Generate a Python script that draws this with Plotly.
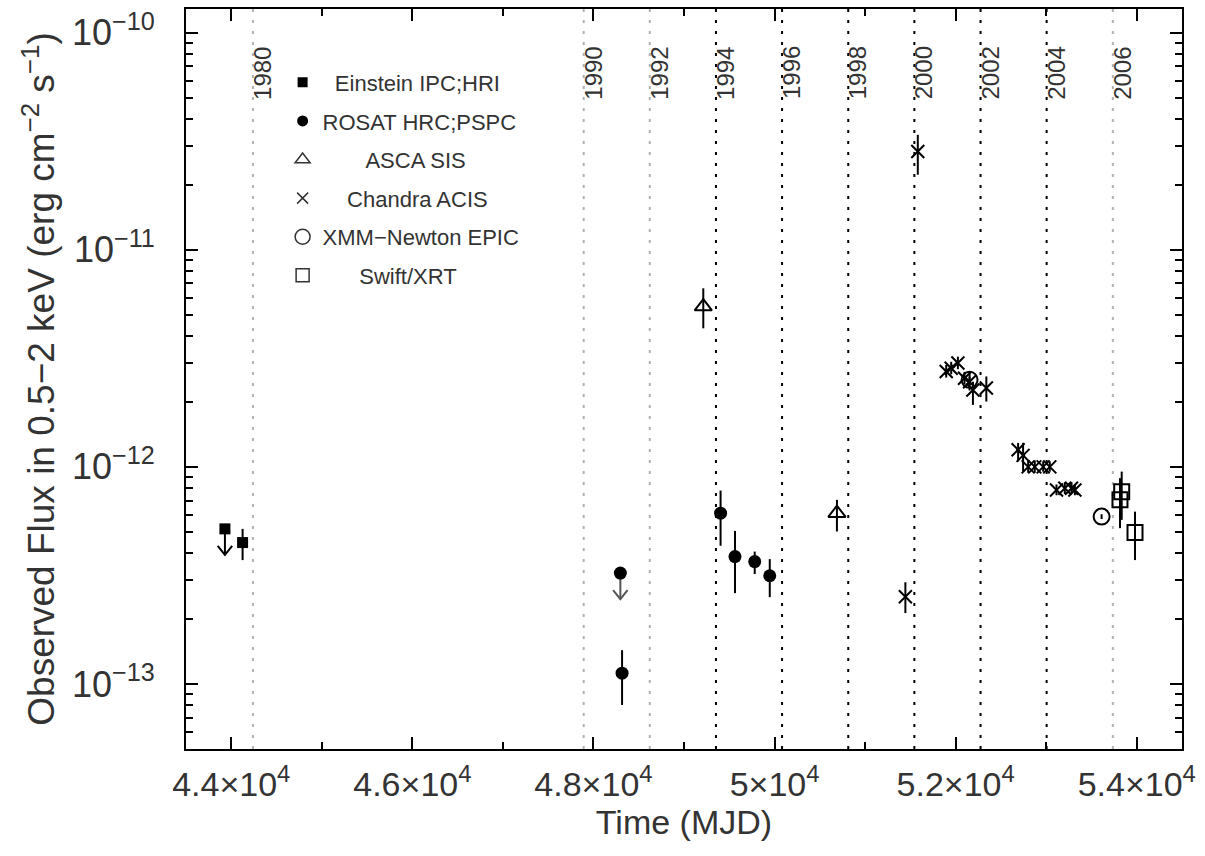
import plotly.graph_objects as go

# ---------------- data ----------------
# Einstein IPC;HRI
ein_mjd = [44125]
ein_flux = [4.48e-13]
ein_hi = [5.18e-13]
ein_lo = [3.72e-13]
ein_ul_mjd = [43930]
ein_ul_flux = [5.18e-13]

# ROSAT HRC;PSPC
ros_mjd = [48316, 49404, 49563, 49781, 49947]
ros_flux = [1.12e-13, 6.12e-13, 3.86e-13, 3.66e-13, 3.15e-13]
ros_hi = [1.43e-13, 7.78e-13, 5.07e-13, 4.07e-13, 3.76e-13]
ros_lo = [8.0e-14, 4.33e-13, 2.62e-13, 3.21e-13, 2.51e-13]
ros_ul_mjd = [48297]
ros_ul_flux = [3.24e-13]

# ASCA SIS
asca_mjd = [49213, 50689]
asca_flux = [5.48e-12, 6.12e-13]
asca_hi = [6.65e-12, 7.05e-13]
asca_lo = [4.35e-12, 5.04e-13]

# Chandra ACIS
cxo_mjd = [51445, 51582, 51896, 51951, 52025, 52098, 52154, 52191, 52339,
           52690, 52745, 52801, 52874, 52967, 53040, 53114, 53206, 53280, 53317]
cxo_flux = [2.52e-13, 2.84e-11, 2.75e-12, 2.85e-12, 3.01e-12, 2.56e-12, 2.47e-12, 2.26e-12, 2.31e-12,
            1.20e-12, 1.13e-12, 1.00e-12, 1.00e-12, 1.00e-12, 1.00e-12, 7.83e-13, 7.97e-13, 7.97e-13, 7.83e-13]
cxo_hi = [2.94e-13, 3.39e-11, 2.95e-12, 3.05e-12, 3.22e-12, 2.74e-12, 2.72e-12, 2.47e-12, 2.61e-12,
          1.29e-12, 1.29e-12, 1.07e-12, 1.07e-12, 1.06e-12, 1.06e-12, 8.3e-13, 8.5e-13, 8.5e-13, 8.3e-13]
cxo_lo = [2.12e-13, 2.22e-11, 2.58e-12, 2.67e-12, 2.82e-12, 2.40e-12, 2.25e-12, 1.93e-12, 2.00e-12,
          1.06e-12, 0.95e-12, 0.94e-12, 0.94e-12, 0.95e-12, 0.95e-12, 7.4e-13, 7.5e-13, 7.5e-13, 7.4e-13]

# XMM-Newton EPIC
xmm_mjd = [52154, 53612]
xmm_flux = [2.52e-12, 5.90e-13]
xmm_hi = [2.60e-12, 6.05e-13]
xmm_lo = [2.45e-12, 5.75e-13]

# Swift/XRT
swi_mjd = [53815, 53834, 53981]
swi_flux = [7.05e-13, 7.69e-13, 4.98e-13]
swi_hi = [8.87e-13, 9.51e-13, 6.22e-13]
swi_lo = [5.22e-13, 5.70e-13, 3.72e-13]

# calendar years marked by vertical lines
years = ["1980", "1990", "1992", "1994", "1996", "1998", "2000", "2002", "2004", "2006"]
year_mjd = [44239, 47892, 48622, 49353, 50083, 50814, 51544, 52275, 53005, 53736]
year_faint = [True, True, True, False, False, False, False, False, False, True]

# axis ticks
x_tickvals = [44000, 46000, 48000, 50000, 52000, 54000]
x_ticktext = ["4.4×10<sup>4</sup>", "4.6×10<sup>4</sup>", "4.8×10<sup>4</sup>",
              "5×10<sup>4</sup>", "5.2×10<sup>4</sup>", "5.4×10<sup>4</sup>"]
x_minor = [45000, 47000, 49000, 51000, 53000]
y_tickvals = [1e-13, 1e-12, 1e-11, 1e-10]
y_ticktext = ["10<sup>−13</sup>", "10<sup>−12</sup>", "10<sup>−11</sup>", "10<sup>−10</sup>"]

legend_names = ["Einstein IPC;HRI", "ROSAT HRC;PSPC", "ASCA SIS",
                "Chandra ACIS", "XMM−Newton EPIC", "Swift/XRT"]

# ---------------- style ----------------
FONT = "Liberation Sans, Arial, sans-serif"
TXT = "#333333"
NB = "\u00a0"
AXFONT = 34


def plus(v, hi):
    return [h - a for a, h in zip(v, hi)]


def minus(v, lo):
    return [a - l for a, l in zip(v, lo)]


def err(v, hi, lo):
    return dict(type="data", symmetric=False, array=plus(v, hi), arrayminus=minus(v, lo),
                color="black", thickness=2, width=0)


fig = go.Figure()

# year lines
for yr, m, faint in zip(years, year_mjd, year_faint):
    fig.add_vline(x=m, line=dict(color="#b0b0b0" if faint else "black", width=2, dash="3px,8px"),
                  layer="below")
    fig.add_annotation(x=m, y=0.9135, xref="x", yref="paper", text=yr, textangle=-90,
                       showarrow=False, xshift=9, yanchor="middle", xanchor="center",
                       font=dict(family=FONT, size=24, color=TXT))

# upper-limit arrows (shaft + open V head), derived from the limit values
SHAFT = 10 ** (-26 / 217)
HEAD = 10 ** (9 / 217)
DX = 80


def arrow_xy(mjds, fluxes):
    xs, ys = [], []
    for m, f in zip(mjds, fluxes):
        tip = f * SHAFT
        xs += [m, m, None, m - DX, m, m + DX, None]
        ys += [f, tip, None, tip * HEAD, tip, tip * HEAD, None]
    return xs, ys


for mjds, fl, col in [(ein_ul_mjd, ein_ul_flux, "black"), (ros_ul_mjd, ros_ul_flux, "#555555")]:
    ax_, ay_ = arrow_xy(mjds, fl)
    fig.add_trace(go.Scatter(x=ax_, y=ay_, mode="lines", line=dict(color=col, width=2),
                             showlegend=False, hoverinfo="skip"))

# data traces
series = [
    (ein_mjd + ein_ul_mjd, ein_flux + ein_ul_flux, ein_hi + ein_ul_flux, ein_lo + ein_ul_flux,
     dict(symbol="square", size=11, color="black")),
    (ros_mjd + ros_ul_mjd, ros_flux + ros_ul_flux, ros_hi + ros_ul_flux, ros_lo + ros_ul_flux,
     dict(symbol="circle", size=13, color="black")),
    (asca_mjd, asca_flux, asca_hi, asca_lo,
     dict(symbol="triangle-up-open", size=15, color="black", line=dict(width=2))),
    (cxo_mjd, cxo_flux, cxo_hi, cxo_lo,
     dict(symbol="x-thin-open", size=13, color="black", line=dict(width=2))),
    (xmm_mjd, xmm_flux, xmm_hi, xmm_lo,
     dict(symbol="circle-open", size=16, color="black", line=dict(width=2))),
    (swi_mjd, swi_flux, swi_hi, swi_lo,
     dict(symbol="square-open", size=15, color="black", line=dict(width=2))),
]
for mj, fl, hi, lo, mk in series:
    fig.add_trace(go.Scatter(x=mj, y=fl, mode="markers", marker=mk,
                             error_y=err(fl, hi, lo), showlegend=False))

# legend entries (markers only)
legend_markers = [
    dict(symbol="square", size=10, color="black"),
    dict(symbol="circle", size=11, color="black"),
    dict(symbol="triangle-up-open", size=13, color="#333333", line=dict(width=1.5)),
    dict(symbol="x-thin-open", size=11, color="#333333", line=dict(width=1.5)),
    dict(symbol="circle-open", size=15, color="#333333", line=dict(width=1.5)),
    dict(symbol="square-open", size=13, color="#333333", line=dict(width=1.5)),
]
pads = [2, 0, 7, 4, 0, 6]
for i, (name, mk, p) in enumerate(zip(legend_names, legend_markers, pads)):
    fig.add_trace(go.Scatter(x=[None], y=[None], mode="markers", marker=mk,
                             name=NB * p + name, legendgroup=str(i), showlegend=True))

axis_common = dict(showline=True, linecolor="black", linewidth=2, mirror="ticks",
                   ticks="inside", ticklen=12, tickwidth=2, tickcolor="black",
                   showgrid=False, zeroline=False, automargin=False)

fig.update_xaxes(**axis_common, range=[43500, 54500], tickvals=x_tickvals, ticktext=x_ticktext,
                 tickfont=dict(family=FONT, size=AXFONT, color=TXT),
                 minor=dict(tickvals=x_minor, ticks="inside", ticklen=7, tickwidth=2, tickcolor="black"),
                 title=dict(text="Time (MJD)", font=dict(family=FONT, size=AXFONT, color=TXT), standoff=8),
                 ticklabelstandoff=4)

y_minor = [k * 10.0 ** e for e in (-14, -13, -12, -11) for k in range(2, 10)]
fig.update_yaxes(**axis_common, type="log", range=[-13.3, -9.89], tickvals=y_tickvals, ticktext=y_ticktext,
                 tickfont=dict(family=FONT, size=36, color=TXT),
                 minor=dict(tickvals=y_minor, ticks="inside", ticklen=7, tickwidth=2, tickcolor="black"),
                 title=dict(text="Observed Flux in 0.5−2 keV (erg cm<sup>−2</sup> s<sup>−1</sup>)",
                            font=dict(family=FONT, size=37, color=TXT), standoff=6),
                 ticklabelstandoff=22)

fig.update_layout(
    template="none",
    width=1205, height=856, autosize=False,
    margin=dict(l=186, r=23, t=9, b=107),
    paper_bgcolor="white", plot_bgcolor="white",
    showlegend=True,
    legend=dict(x=0.097, y=0.929, xanchor="left", yanchor="top", bgcolor="rgba(0,0,0,0)",
                font=dict(family=FONT, size=22, color=TXT), tracegroupgap=7, itemwidth=30),
)

fig.write_html("out.html", post_script="document.body.style.margin='0';",
               config={"displayModeBar": False})
